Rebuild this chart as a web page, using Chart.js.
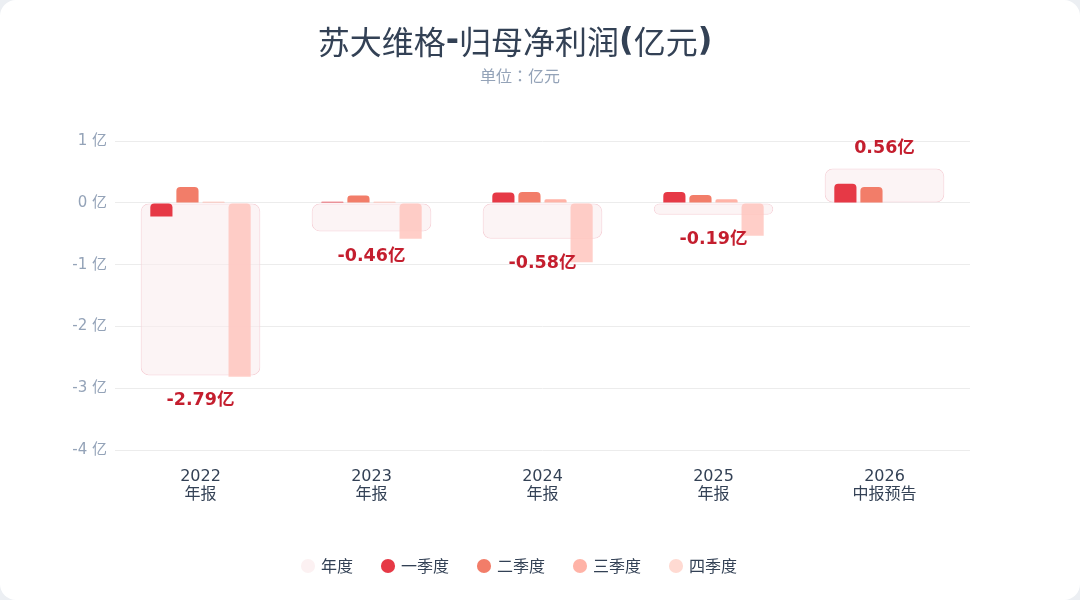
<!DOCTYPE html>
<html>
<head>
<meta charset="utf-8">
<script src="https://cdn.jsdelivr.net/npm/chart.js@4.4.1/dist/chart.umd.min.js"></script>
<style>
  html, body { margin: 0; padding: 0; background: #eceff3; }
  .card { width: 1080px; height: 600px; background: #fff; border-radius: 16px; overflow: hidden; }
  canvas { display: block; }
</style>
</head>
<body>
<div class="card"><canvas id="chart" width="1080" height="600"></canvas></div>
<script>
const years = ["2022", "2023", "2024", "2025", "2026"];
const reportTypes = ["年报", "年报", "年报", "年报", "中报预告"];
const annual = [-2.79, -0.46, -0.58, -0.19, 0.56];
const q1 = [-0.22, 0.02, 0.17, 0.18, 0.31];
const q2 = [0.26, 0.12, 0.18, 0.13, 0.26];
const q3 = [0.02, 0.02, 0.06, 0.06, null];
const q4 = [-2.81, -0.58, -0.96, -0.53, null];
const yTicks = [1, 0, -1, -2, -3, -4];
const titleText = "苏大维格-归母净利润(亿元)";

const fam = '"DejaVu Sans", "Noto Sans CJK SC", sans-serif';
const cjkFam = '"Noto Sans CJK SC", "DejaVu Sans", sans-serif';
const jpFam = '"Noto Sans CJK JP", "DejaVu Sans", sans-serif';
const legendFill = ["#fcf1f2", "#e63946", "#f27d69", "#ffb3a7", "#ffdad2"];

const canvas = document.getElementById("chart");
const ctx = canvas.getContext("2d");

// title: CJK in regular weight, latin punctuation in bold
const titlePlugin = {
  id: "mixedTitle",
  afterDraw(chart) {
    const c = chart.ctx;
    const runs = titleText.match(/[\u4e00-\u9fff]+|[^\u4e00-\u9fff]+/g);
    const fonts = runs.map(r => /[\u4e00-\u9fff]/.test(r)
      ? "normal 32px " + cjkFam
      : "bold 32px " + fam);
    c.save();
    let total = 0;
    const widths = runs.map((r, i) => { c.font = fonts[i]; const w = c.measureText(r).width; total += w; return w; });
    let x = 515 - total / 2;
    c.fillStyle = "#334155";
    c.textBaseline = "middle";
    c.textAlign = "left";
    runs.forEach((r, i) => {
      c.font = fonts[i];
      c.fillText(r, x, 42);
      x += widths[i];
    });
    c.restore();
  }
};

// annual value labels under / above the wide bar
const valueLabels = {
  id: "valueLabels",
  afterDatasetsDraw(chart) {
    const meta = chart.getDatasetMeta(0);
    const c = chart.ctx;
    c.save();
    c.font = "bold 17.5px " + fam;
    c.fillStyle = "#c41e2e";
    c.textAlign = "center";
    c.textBaseline = "middle";
    meta.data.forEach((bar, i) => {
      const v = annual[i];
      const y = v < 0 ? bar.y + 25 : bar.y - 20;
      c.fillText(v.toFixed(2) + "亿", bar.x, y);
    });
    c.restore();
  }
};

const topRound = { topLeft: 4, topRight: 4, bottomLeft: 0, bottomRight: 0 };

function quarter(label, data, color) {
  return {
    label,
    data,
    backgroundColor: color,
    borderWidth: 0,
    borderRadius: topRound,
    borderSkipped: false,
    categoryPercentage: 0.61,
    barPercentage: 0.85,
    order: 0
  };
}

new Chart(ctx, {
  type: "bar",
  data: {
    labels: years.map((y, i) => [y, reportTypes[i]]),
    datasets: [
      {
        label: "年度",
        data: annual,
        grouped: false,
        backgroundColor: "rgba(250,236,238,0.6)",
        borderColor: "#f6d3d9",
        borderWidth: 1,
        borderRadius: 8,
        borderSkipped: false,
        categoryPercentage: 1,
        barPercentage: 0.7,
        order: 1
      },
      quarter("一季度", q1, "#e63946"),
      quarter("二季度", q2, "#f27d69"),
      quarter("三季度", q3, "#ffb3a7"),
      quarter("四季度", q4, "rgba(255,198,190,0.85)")
    ]
  },
  options: {
    responsive: false,
    animation: false,
    layout: { padding: { left: 70, right: 110, top: 66, bottom: 16 } },
    plugins: {
      title: { display: false },
      subtitle: {
        display: true,
        text: "单位：亿元",
        color: "#94a3b8",
        font: { size: 16, family: jpFam },
        padding: { top: 0, bottom: 56 }
      },
      legend: {
        position: "bottom",
        labels: {
          usePointStyle: true,
          pointStyle: "circle",
          boxWidth: 10,
          boxHeight: 10,
          padding: 30,
          color: "#334155",
          font: { size: 16, family: cjkFam },
          sort: (a, b) => a.datasetIndex - b.datasetIndex,
          generateLabels(chart) {
            const items = Chart.defaults.plugins.legend.labels.generateLabels(chart);
            items.forEach(it => {
              it.lineWidth = 0;
              it.strokeStyle = "rgba(0,0,0,0)";
              it.fillStyle = legendFill[it.datasetIndex];
            });
            return items;
          }
        }
      },
      tooltip: { enabled: false }
    },
    scales: {
      x: {
        grid: { display: false },
        border: { display: false },
        afterFit(scale) { scale.height += 15; },
        ticks: {
          color: "#334155",
          font: { size: 16, family: fam, lineHeight: 1.15 },
          padding: 9
        }
      },
      y: {
        min: -4,
        max: 1,
        afterFit(scale) { scale.width = 45; },
        grid: { color: "#ececec", drawTicks: false },
        border: { display: false },
        ticks: {
          stepSize: 1,
          padding: 8,
          color: "#94a3b8",
          font: { size: 15, family: fam },
          callback: v => (yTicks.includes(v) ? v + " 亿" : "")
        }
      }
    }
  },
  plugins: [valueLabels, titlePlugin]
});
</script>
</body>
</html>
